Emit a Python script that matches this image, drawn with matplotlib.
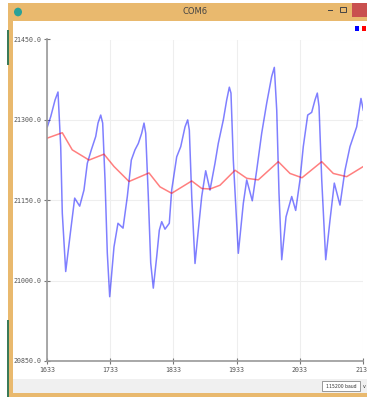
import numpy as np
import matplotlib.pyplot as plt
from matplotlib.patches import Rectangle, Circle

# serial plotter window, two channels
sample_blue = [1633.5, 1638.9, 1645.7, 1650.4, 1654.7, 1657.2, 1662.6, 1670.5, 1676.8, 1684.7,
               1691.5, 1696.8, 1703.1, 1710.1, 1713.7, 1718, 1721.1, 1724.8, 1728.4, 1732.2,
               1739, 1745.3, 1753.3, 1760.1, 1766.4, 1772.2, 1777.5, 1782.8, 1786.5, 1789.2,
               1793.3, 1797.1, 1801.2, 1806.6, 1810.7, 1814.5, 1819.7, 1826.5, 1830.3, 1838.2,
               1844.6, 1851.4, 1855.6, 1858.2, 1862, 1867.2, 1872.4, 1877.8, 1884.1, 1890.9,
               1898.8, 1904, 1912, 1917.3, 1921.5, 1924.1, 1927.8, 1935.7, 1943.6, 1949,
               1957.8, 1964.8, 1972.7, 1980.6, 1988.5, 1992.7, 1996.5, 2000.1, 2004.4, 2011.2,
               2020.2, 2026.5, 2033.3, 2038.5, 2045.5, 2051.8, 2057, 2060.7, 2063.4, 2067.7,
               2074, 2080.8, 2087.6, 2096.6, 2104.5, 2112.4, 2123, 2129.8, 2133.5]
value_blue = [21287, 21306, 21337, 21352, 21250, 21126, 21017, 21094, 21154, 21139,
              21169, 21219, 21244, 21269, 21294, 21309, 21294, 21188, 21052, 20970,
              21063, 21107, 21098, 21157, 21225, 21244, 21256, 21275, 21294, 21275,
              21157, 21033, 20986, 21045, 21094, 21110, 21096, 21107, 21169, 21231,
              21250, 21287, 21300, 21281, 21157, 21032, 21094, 21157, 21205, 21169,
              21219, 21256, 21300, 21337, 21361, 21350, 21225, 21051, 21144, 21188,
              21149, 21206, 21275, 21331, 21381, 21398, 21318, 21163, 21039, 21119,
              21157, 21131, 21188, 21250, 21309, 21314, 21337, 21350, 21325, 21188,
              21039, 21113, 21182, 21141, 21206, 21250, 21287, 21340, 21318]

sample_red = [1633.5, 1657.2, 1673, 1699.5, 1723.2, 1739, 1762.8, 1794.4, 1811.8, 1830.3,
              1862, 1877.8, 1890.9, 1906.7, 1930.5, 1949, 1967.3, 1999, 2017.5, 2036.5,
              2067.7, 2086, 2107.2, 2133.5]
value_red = [21266, 21276, 21244, 21225, 21236, 21213, 21185, 21201, 21175, 21163,
             21186, 21172, 21171, 21178, 21206, 21191, 21188, 21222, 21200, 21192,
             21222, 21200, 21194, 21213]

xticks = [1633, 1733, 1833, 1933, 2033, 2133]
yticks = [20850, 21000, 21150, 21300, 21450]

W, H = 367, 397
fig = plt.figure(figsize=(W / 100, H / 100), dpi=100)
fig.patch.set_facecolor('white')

def box(x, y, w, h, color, **kw):
    # pixel box (top-left origin) in figure coords
    fig.patches.append(Rectangle((x / W, 1 - (y + h) / H), w / W, h / H,
                                 transform=fig.transFigure, facecolor=color,
                                 edgecolor=kw.pop('ec', 'none'), lw=kw.pop('lw', 0), **kw))

orange = '#e9b96e'
box(8, 3, 359, 394, orange, zorder=0)
box(7, 30, 2, 35, '#3b7a57', zorder=1)
box(7, 320, 2, 77, '#3b7a57', zorder=1)
box(13, 21, 354, 358, 'white', zorder=1)
box(13, 379, 354, 14, '#f0f0f0', zorder=1)
box(322, 381, 38, 10, 'white', ec='#888888', lw=0.6, zorder=2)
box(352, 3, 15, 14, '#c9504f', zorder=2)
box(340, 7, 6, 5, 'none', ec='#444444', lw=0.7, zorder=2)
box(328, 10, 5, 1, '#444444', zorder=2)
box(355, 26, 4, 5, '#0000ff', zorder=2)
box(362, 26, 4, 5, '#ff0000', zorder=2)
fig.patches.append(Circle((18 / W, 1 - 12 / H), 4 / W, transform=fig.transFigure,
                          facecolor='#2aa198', edgecolor='none', zorder=2))
fig.text(195 / W, 1 - 12 / H, 'COM6', ha='center', va='center', fontsize=6, color='#444444')
fig.text(341 / W, 1 - 386 / H, '115200 baud', ha='center', va='center', fontsize=3.3,
         color='#333333', zorder=3)
fig.text(364 / W, 1 - 386 / H, 'v', ha='center', va='center', fontsize=3.5, color='#333333')

ax = fig.add_axes([47 / W, 1 - 361 / H, 316 / W, 321.5 / H])
ax.set_zorder(5)
ax.set_facecolor('none')
ax.plot(sample_blue, value_blue, color='#0000ff', alpha=0.5, lw=1.1, solid_joinstyle='round')
ax.plot(sample_red, value_red, color='#ff0000', alpha=0.5, lw=1.1, solid_joinstyle='round')

ax.set_xlim(1633, 2133)
ax.set_ylim(20850, 21450)
ax.set_xticks(xticks)
ax.set_yticks(yticks)
ax.set_yticklabels(['%.1f' % v for v in yticks])
ax.grid(True, color='#eeeeee', lw=0.8)
ax.set_axisbelow(True)
for s in ['top', 'right']:
    ax.spines[s].set_visible(False)
for s in ['left', 'bottom']:
    ax.spines[s].set_color('#999999')
    ax.spines[s].set_linewidth(1.2)
ax.tick_params(direction='inout', length=5, width=0.8, color='#777777',
               labelsize=4.8, labelcolor='#555555', pad=1.5)
for lab in ax.get_xticklabels() + ax.get_yticklabels():
    lab.set_family('DejaVu Sans Mono')

fig.savefig('out.png', dpi=100)
